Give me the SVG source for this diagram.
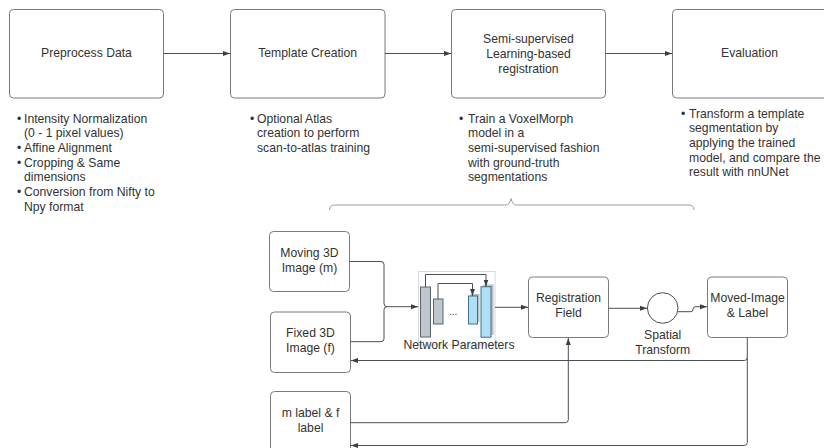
<svg xmlns="http://www.w3.org/2000/svg" width="824" height="448" viewBox="0 0 824 448">
<defs>
<style>
.box{fill:#fff;stroke:#777b80;stroke-width:1}
.t{font-family:"Liberation Sans",Arial,sans-serif;font-size:12.2px;fill:#333}
.c{text-anchor:middle}
.ln{fill:none;stroke:#4a4f56;stroke-width:1}
.fb{fill:none;stroke:#999da3;stroke-width:1}
</style>
<marker id="ah" viewBox="0 0 10 10" refX="10" refY="5" markerWidth="7" markerHeight="7" markerUnits="userSpaceOnUse" orient="auto">
<path d="M0,1.5 L10,5 L0,8.5 Z" fill="#3a3f46"/>
</marker>
</defs>
<rect width="824" height="448" fill="#fff"/>

<g id="preprocess">
<rect class="box" x="9.5" y="9.5" width="154" height="88.5" rx="4"/>
<text class="t c" x="86.5" y="57.4">Preprocess Data</text>
<text class="t" x="17" y="122.5">•</text>
<text class="t" x="24" y="122.5">Intensity Normalization</text>
<text class="t" x="24" y="137.2">(0 - 1 pixel values)</text>
<text class="t" x="17" y="151.9">•</text>
<text class="t" x="24" y="151.9">Affine Alignment</text>
<text class="t" x="17" y="166.6">•</text>
<text class="t" x="24" y="166.6">Cropping &amp; Same</text>
<text class="t" x="24" y="181.3">dimensions</text>
<text class="t" x="17" y="196">•</text>
<text class="t" x="24" y="196">Conversion from Nifty to</text>
<text class="t" x="24" y="210.7">Npy format</text>
</g>

<g id="template">
<rect class="box" x="230.5" y="9.5" width="154.5" height="88.5" rx="4"/>
<text class="t c" x="307.7" y="57.4">Template Creation</text>
<text class="t" x="250" y="122.5">•</text>
<text class="t" x="257" y="122.5">Optional Atlas</text>
<text class="t" x="257" y="137.2">creation to perform</text>
<text class="t" x="257" y="151.9">scan-to-atlas training</text>
</g>

<g id="semi">
<rect class="box" x="451.5" y="9.5" width="154" height="88.5" rx="4"/>
<text class="t c" x="528.5" y="43.4">Semi-supervised</text>
<text class="t c" x="528.5" y="58">Learning-based</text>
<text class="t c" x="528.5" y="72.6">registration</text>
<text class="t" x="459" y="122.5">•</text>
<text class="t" x="468" y="122.5">Train a VoxelMorph</text>
<text class="t" x="468" y="137.2">model in a</text>
<text class="t" x="468" y="151.9">semi-supervised fashion</text>
<text class="t" x="468" y="166.6">with ground-truth</text>
<text class="t" x="468" y="181.3">segmentations</text>
</g>

<g id="evaluation">
<rect class="box" x="672.5" y="9.5" width="156" height="88.5" rx="4"/>
<text class="t c" x="749.5" y="57.4">Evaluation</text>
<text class="t" x="681" y="117.5">•</text>
<text class="t" x="689" y="117.5">Transform a template</text>
<text class="t" x="689" y="132.2">segmentation by</text>
<text class="t" x="689" y="146.9">applying the trained</text>
<text class="t" x="689" y="161.6">model, and compare the</text>
<text class="t" x="689" y="176.3">result with nnUNet</text>
</g>

<g id="brace">
<path class="fb" d="M329.5,210 Q329.5,205 334.5,205 L506,205 Q509.5,205 511,198.5 Q512.5,205 516,205 L689,205 Q694,205 694,210"/>
</g>

<g id="moving">
<rect class="box" x="269.5" y="231.5" width="80" height="60" rx="4"/>
<text class="t c" x="309.5" y="257.4">Moving 3D</text>
<text class="t c" x="309.5" y="272.4">Image (m)</text>
</g>

<g id="fixed">
<rect class="box" x="270.5" y="312" width="80" height="60.5" rx="4"/>
<text class="t c" x="310.5" y="337.4">Fixed 3D</text>
<text class="t c" x="310.5" y="352.4">Image (f)</text>
</g>

<g id="mlabel">
<rect class="box" x="270.5" y="391.5" width="80" height="62" rx="4"/>
<text class="t c" x="310.5" y="417.4">m label &amp; f</text>
<text class="t c" x="310.5" y="432.4">label</text>
</g>

<g id="network">
<rect x="418.5" y="271.5" width="76.5" height="73.5" fill="#fff" stroke="#d6d8db" stroke-width="1"/>
<rect x="420.5" y="287" width="10" height="50" fill="#bfc6cc" stroke="#5d6670" stroke-width="1"/>
<rect x="433.5" y="299" width="9.5" height="25" fill="#bfc6cc" stroke="#5d6670" stroke-width="1"/>
<text class="t" x="449" y="315" style="font-size:10px">...</text>
<rect x="470.5" y="294" width="9" height="28" fill="#b8bfc6" stroke="none"/>
<rect x="468.5" y="296" width="9" height="28" fill="#aee0f5" stroke="#4a6d85" stroke-width="1"/>
<rect x="483.5" y="284.5" width="10" height="50.5" fill="#b8bfc6" stroke="none"/>
<rect x="481" y="286.7" width="10" height="50.5" fill="#aee0f5" stroke="#4a6d85" stroke-width="1"/>
<path class="ln" d="M425.5,287 V274.5 H486 V286.5" marker-end="url(#ah)"/>
<path class="ln" d="M438,299 V283.5 H472.5 V296" marker-end="url(#ah)"/>
<text class="t c" x="459" y="349.4">Network Parameters</text>
</g>

<g id="registration">
<rect class="box" x="528.5" y="277" width="80" height="60.5" rx="4"/>
<text class="t c" x="568.5" y="302.4">Registration</text>
<text class="t c" x="568.5" y="317.4">Field</text>
</g>

<g id="spatial">
<circle cx="662.7" cy="308" r="15.3" fill="#fff" stroke="#4a4f56" stroke-width="1"/>
<text class="t c" x="662.7" y="339.4">Spatial</text>
<text class="t c" x="662.7" y="353.9">Transform</text>
</g>

<g id="moved">
<rect class="box" x="707.5" y="277" width="80" height="60.5" rx="4"/>
<text class="t c" x="747.5" y="302.4">Moved-Image</text>
<text class="t c" x="747.5" y="317.4">&amp; Label</text>
</g>

<g id="connectors">
<path class="ln" d="M163.5,53.5 H230" marker-end="url(#ah)"/>
<path class="ln" d="M385,53.5 H451" marker-end="url(#ah)"/>
<path class="ln" d="M605.5,53.5 H672" marker-end="url(#ah)"/>
<path class="ln" d="M349.5,261.5 H381 Q384,261.5 384,264.5 V303.5 Q384,306.7 387,306.7 H418" marker-end="url(#ah)"/>
<path class="ln" d="M350.5,341.7 H381 Q384,341.7 384,338.7 V309.7 Q384,306.7 387,306.7"/>
<path class="ln" d="M495,307.3 H528" marker-end="url(#ah)"/>
<path class="ln" d="M608.5,308.3 H647" marker-end="url(#ah)"/>
<path class="ln" d="M678,311.7 H691 Q693,311.7 693,309 Q693,306.7 696,306.7 H707" marker-end="url(#ah)"/>
<path class="ln" d="M747.3,337.5 V357.5 Q747.3,360.5 744.3,360.5 H351" marker-end="url(#ah)"/>
<path class="ln" d="M747.3,357.5 V442.5 Q747.3,445.5 744.3,445.5 H351" marker-end="url(#ah)"/>
<path class="ln" d="M350.5,422.7 H565.3 Q568.3,422.7 568.3,419.7 V338" marker-end="url(#ah)"/>
</g>
</svg>
